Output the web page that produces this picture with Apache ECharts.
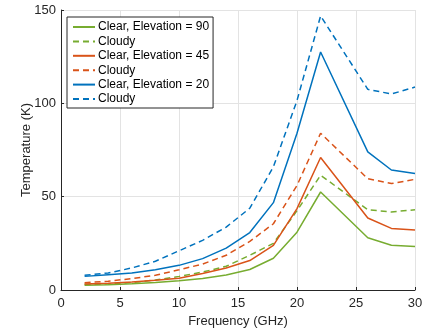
<!DOCTYPE html>
<html>
<head>
<meta charset="utf-8">
<script src="https://cdn.jsdelivr.net/npm/echarts@6/dist/echarts.min.js"></script>
<style>
  html, body { margin: 0; padding: 0; background: #fff; }
  #chart { width: 429px; height: 333px; }
</style>
</head>
<body>
<div id="chart"></div>
<script>
// frequency points (GHz)
const freqs = [2, 4, 6, 8, 10, 12, 14, 16, 18, 20, 22, 26, 28, 30];

// brightness temperature (K)
const clear90 = [2.5, 2.8, 3.3, 4.0, 4.9, 6.1, 8.0, 11.0, 17.0, 31, 52.5, 28, 24, 23.3];
const cloudy90 = [2.9, 3.2, 4.0, 5.3, 7.3, 9.6, 12.7, 18.6, 25, 42.5, 61.5, 43, 41.8, 43];
const clear45 = [3.2, 3.6, 4.3, 5.2, 6.3, 8.8, 11.8, 15.8, 23.9, 43.6, 71, 38.6, 33, 32.2];
const cloudy45 = [3.9, 4.7, 6.1, 7.9, 10.8, 13.9, 18.6, 26, 35.5, 56, 84, 59.6, 57, 59.3];
const clear20 = [7.3, 8.2, 9.1, 10.9, 13.2, 16.8, 22.4, 30.8, 46.8, 84, 127.5, 74, 64.3, 62.4];
const cloudy20 = [7.9, 9.1, 11.8, 15.4, 21, 26.6, 33.7, 43.8, 66, 101.5, 146.8, 107.5, 105, 108.7];

// legend names must be unique, so the three "Cloudy" entries carry trailing spaces
const seriesNames = [
  "Clear, Elevation = 90", "Cloudy ",
  "Clear, Elevation = 45", "Cloudy  ",
  "Clear, Elevation = 20", "Cloudy"
];
const seriesData = [clear90, cloudy90, clear45, cloudy45, clear20, cloudy20];
const seriesColors = ["#77AC30", "#77AC30", "#D95319", "#D95319", "#0072BD", "#0072BD"];

const xTicks = [0, 5, 10, 15, 20, 25, 30];
const yTicks = [0, 50, 100, 150];

const axisColor = "#262626";
const font = "'Liberation Sans', Arial, sans-serif";

const chart = echarts.init(document.getElementById("chart"), null, { renderer: "canvas" });

chart.setOption({
  animation: false,
  backgroundColor: "#fff",
  grid: { left: 61, right: 14, top: 10, bottom: 43, containLabel: false },
  legend: {
    orient: "vertical",
    left: 67,
    top: 17,
    padding: [4, 4, 3, 5],
    itemWidth: 22,
    itemHeight: 10,
    itemGap: 2.4,
    backgroundColor: "#fff",
    borderColor: axisColor,
    borderWidth: 1,
    borderRadius: 0,
    itemStyle: { opacity: 0 },
    textStyle: { color: "#000", fontSize: 12, fontFamily: font, padding: [0, 0, 0, -2] },
    data: seriesNames
  },
  xAxis: {
    type: "value",
    min: xTicks[0],
    max: xTicks[xTicks.length - 1],
    interval: 5,
    name: "Frequency (GHz)",
    nameLocation: "middle",
    nameMoveOverlap: false,
    nameGap: 25,
    nameTextStyle: { color: axisColor, fontSize: 13, fontFamily: font },
    axisLine: { show: true, lineStyle: { color: axisColor, width: 1 } },
    axisTick: { show: true, inside: true, length: 3, lineStyle: { color: axisColor } },
    axisLabel: { color: axisColor, fontSize: 13, fontFamily: font, margin: 7 },
    splitLine: { show: true, lineStyle: { color: "#e3e3e3", width: 1 } }
  },
  yAxis: {
    type: "value",
    min: yTicks[0],
    max: yTicks[yTicks.length - 1],
    interval: 50,
    name: "Temperature (K)",
    nameLocation: "middle",
    nameMoveOverlap: false,
    nameGap: 28,
    nameTextStyle: { color: axisColor, fontSize: 13, fontFamily: font },
    axisLine: { show: true, lineStyle: { color: axisColor, width: 1 } },
    axisTick: { show: true, inside: true, length: 3, lineStyle: { color: axisColor } },
    axisLabel: { color: axisColor, fontSize: 13, fontFamily: font, margin: 5 },
    splitLine: { show: true, lineStyle: { color: "#e3e3e3", width: 1 } }
  },
  series: seriesNames.map((name, i) => ({
    name: name,
    type: "line",
    symbol: "none",
    smooth: false,
    color: seriesColors[i],
    lineStyle: {
      color: seriesColors[i],
      width: 1.5,
      type: i % 2 === 1 ? [6, 4] : "solid"
    },
    data: freqs.map((f, k) => [f, seriesData[i][k]])
  }))
});
</script>
</body>
</html>
